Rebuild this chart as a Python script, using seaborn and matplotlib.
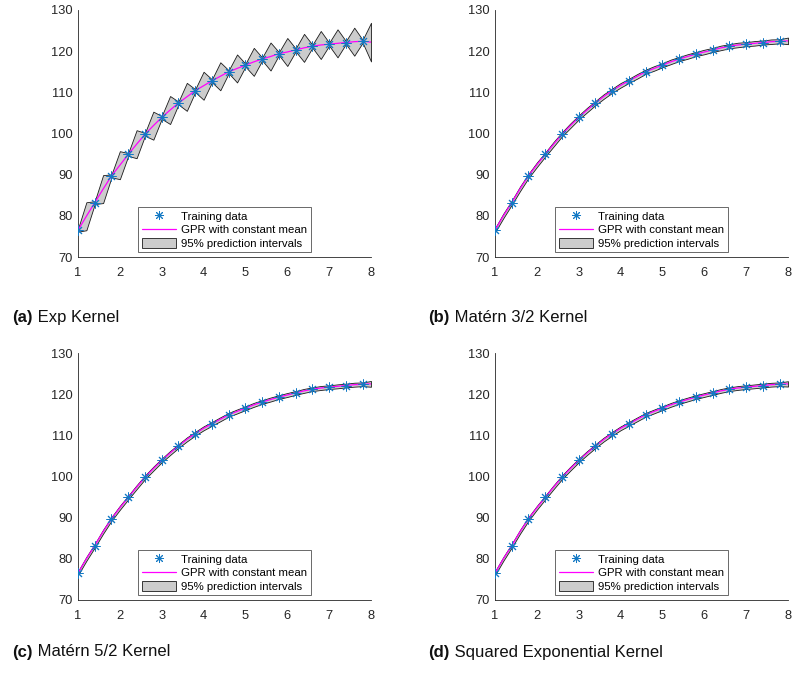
import matplotlib
matplotlib.use("Agg")
import matplotlib.pyplot as plt
import seaborn as sns
import numpy as np
from matplotlib.lines import Line2D
from matplotlib.patches import Patch

# ---------------- data ----------------
train_x = [1.0, 1.4, 1.8, 2.2, 2.6, 3.0, 3.4, 3.8, 4.2, 4.6, 5.0, 5.4, 5.8, 6.2, 6.6, 7.0, 7.4, 7.8]
train_y = [76.5, 83.2, 89.7, 94.9, 99.8, 103.9, 107.4, 110.4, 112.8, 115.0, 116.6, 118.1,
           119.4, 120.3, 121.2, 121.7, 122.1, 122.4]

grid_x = [1.0, 1.2, 1.4, 1.6, 1.8, 2.0, 2.2, 2.4, 2.6, 2.8, 3.0, 3.2, 3.4, 3.6, 3.8, 4.0, 4.2, 4.4,
          4.6, 4.8, 5.0, 5.2, 5.4, 5.6, 5.8, 6.0, 6.2, 6.4, 6.6, 6.8, 7.0, 7.2, 7.4, 7.6, 7.8, 8.0]

exp_mean = [76.5, 79.9, 83.2, 86.5, 89.7, 92.3, 94.9, 97.4, 99.8, 101.9, 103.9, 105.7, 107.4, 108.9,
            110.4, 111.6, 112.8, 113.9, 115.0, 115.8, 116.6, 117.4, 118.1, 118.7, 119.4, 119.8,
            120.3, 120.8, 121.2, 121.5, 121.7, 121.9, 122.1, 122.3, 122.4, 122.2]
exp_half = [0.35, 3.4, 0.35, 3.4, 0.35, 3.4, 0.35, 3.4, 0.35, 3.4, 0.35, 3.4, 0.35, 3.4, 0.35, 3.4,
            0.35, 3.4, 0.35, 3.4, 0.35, 3.4, 0.35, 3.4, 0.35, 3.4, 0.35, 3.4, 0.35, 3.4, 0.35, 3.4,
            0.35, 3.4, 0.35, 4.7]

m32_mean = [76.5, 80.0, 83.2, 86.6, 89.7, 92.4, 94.9, 97.4, 99.8, 101.9, 103.9, 105.7, 107.4, 109.0,
            110.4, 111.7, 112.8, 113.9, 115.0, 115.8, 116.6, 117.4, 118.1, 118.7, 119.3, 119.8,
            120.3, 120.8, 121.2, 121.5, 121.7, 121.9, 122.1, 122.3, 122.4, 122.5]
m32_half = [0.5, 0.55, 0.5, 0.55, 0.5, 0.55, 0.5, 0.55, 0.5, 0.55, 0.5, 0.55, 0.5, 0.55, 0.5, 0.55,
            0.5, 0.55, 0.5, 0.55, 0.5, 0.55, 0.5, 0.55, 0.5, 0.55, 0.5, 0.55, 0.5, 0.55, 0.5, 0.55,
            0.5, 0.55, 0.5, 0.8]

m52_mean = m32_mean
m52_half = [0.45, 0.48, 0.45, 0.48, 0.45, 0.48, 0.45, 0.48, 0.45, 0.48, 0.45, 0.48, 0.45, 0.48, 0.45,
            0.48, 0.45, 0.48, 0.45, 0.48, 0.45, 0.48, 0.45, 0.48, 0.45, 0.48, 0.45, 0.48, 0.45, 0.48,
            0.45, 0.48, 0.45, 0.48, 0.45, 0.7]

se_mean = m32_mean
se_half = [0.45, 0.46, 0.45, 0.46, 0.45, 0.46, 0.45, 0.46, 0.45, 0.46, 0.45, 0.46, 0.45, 0.46, 0.45,
           0.46, 0.45, 0.46, 0.45, 0.46, 0.45, 0.46, 0.45, 0.46, 0.45, 0.46, 0.45, 0.46, 0.45, 0.46,
           0.45, 0.46, 0.45, 0.46, 0.45, 0.65]

panel_tags = ["(a)", "(b)", "(c)", "(d)"]
panel_names = ["Exp Kernel", "Matérn 3/2 Kernel", "Matérn 5/2 Kernel", "Squared Exponential Kernel"]
legend_labels = ["Training data", "GPR with constant mean", "95% prediction intervals"]
x_ticks = [1, 2, 3, 4, 5, 6, 7, 8]
y_ticks = [70, 80, 90, 100, 110, 120, 130]

# ---------------- style ----------------
sns.set_style("white")
plt.rcParams["font.family"] = ["Liberation Sans", "DejaVu Sans"]

W, H = 794, 673
fig = plt.figure(figsize=(W / 100, H / 100), dpi=100)

AX_COL = "#262626"
PT_COL = "#1479C4"
MAG = "#ff00ff"
asterisk = (8, 2, 0)

# axes boxes in pixel coords: (left, top, right, bottom)
boxes = [(78, 10, 371, 257), (495, 10, 788, 257),
         (78, 353, 371, 600), (495, 353, 788, 600)]
caption_pos = [(12.5, 321.5), (428.5, 321.5), (12.5, 656.5), (428.5, 656.5)]

panels = [(exp_mean, exp_half), (m32_mean, m32_half), (m52_mean, m52_half), (se_mean, se_half)]

for i, ((mean, half), box) in enumerate(zip(panels, boxes)):
    l, t, r, b = box
    ax = fig.add_axes([l / W, 1 - b / H, (r - l) / W, (b - t) / H])
    mean_a = np.array(mean)
    half_a = np.array(half)
    ax.fill_between(grid_x, mean_a - half_a, mean_a + half_a, facecolor="#cccccc",
                    edgecolor="#1a1a1a", linewidth=0.6, zorder=1)
    sns.lineplot(x=grid_x, y=mean, color=MAG, linewidth=0.9, ax=ax, zorder=2)
    sns.scatterplot(x=train_x, y=train_y, marker=asterisk, s=44, color=PT_COL,
                    linewidth=0.7, ax=ax, zorder=3)
    ax.set_xlim(1, 8)
    ax.set_ylim(70, 130)
    ax.set_xticks(x_ticks)
    ax.set_yticks(y_ticks)
    for s in ["top", "right"]:
        ax.spines[s].set_visible(False)
    for s in ["left", "bottom"]:
        ax.spines[s].set_color(AX_COL)
        ax.spines[s].set_linewidth(0.6)
    ax.tick_params(axis="both", direction="in", length=2.5, width=0.6, color=AX_COL,
                   labelcolor=AX_COL, labelsize=9.3)
    ax.tick_params(axis="x", pad=7.5)
    ax.tick_params(axis="y", pad=4)

    handles = [
        Line2D([], [], linestyle="none", marker=asterisk, markersize=6.5,
               markeredgecolor=PT_COL, markerfacecolor=PT_COL, markeredgewidth=0.7),
        Line2D([], [], color=MAG, linewidth=0.9),
        Patch(facecolor="#cccccc", edgecolor="#1a1a1a", linewidth=0.6),
    ]
    leg = ax.legend(handles, legend_labels, loc="lower center", bbox_to_anchor=(0.5, 0.021),
                    borderaxespad=0, fontsize=8.2, frameon=True, fancybox=False,
                    borderpad=0.27, handlelength=3.07, handletextpad=0.44,
                    labelspacing=0.23, handleheight=1.0)
    leg.get_frame().set_edgecolor(AX_COL)
    leg.get_frame().set_linewidth(0.6)
    for txt in leg.get_texts():
        txt.set_color("#000000")

# captions
fig.canvas.draw()
renderer = fig.canvas.get_renderer()
for tag, name, (cx, cy) in zip(panel_tags, panel_names, caption_pos):
    t1 = fig.text(cx / W, 1 - cy / H, tag, fontsize=12, fontweight="bold",
                  ha="left", va="baseline", color="#111111")
    bb = t1.get_window_extent(renderer)
    fig.text(bb.x1 / W, 1 - cy / H, " " + name, fontsize=12, ha="left",
             va="baseline", color="#111111")

fig.savefig("out.png", dpi=100)
